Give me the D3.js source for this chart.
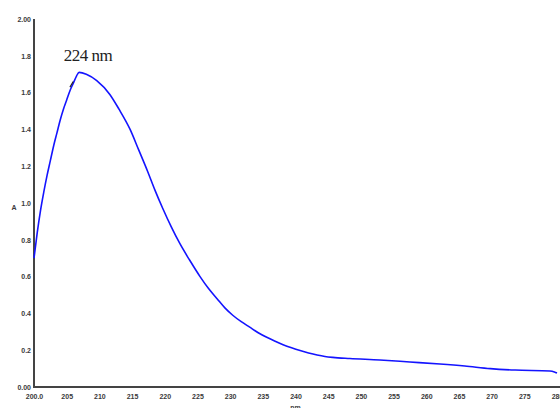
<!DOCTYPE html>
<html>
<head>
<meta charset="utf-8">
<script src="https://cdn.jsdelivr.net/npm/d3@7"></script>
<style>
  body { margin: 0; background: #fff; }
  svg { display: block; }
  .tick-label { font-family: "Liberation Sans", Arial, sans-serif; font-size: 7px; font-weight: bold; fill: #3a3a3a; }
</style>
</head>
<body>
<div id="chart"></div>
<script>
// UV absorbance spectrum
const wavelength = [200.0, 200.5, 201.0, 201.5, 202.0, 202.5, 203.0, 203.5, 204.0, 204.5, 205.0, 205.5, 206.0, 206.5,
  206.9, 208.0, 209.6, 211.6, 213.0, 214.7, 216.0, 217.4, 218.5, 219.7, 221.0, 222.3, 223.8, 225.4, 226.7,
  228.0, 229.2, 230.4, 231.7, 233.0, 234.3, 235.6, 236.8, 238.1, 239.4, 240.7, 242.0, 243.3, 244.5, 245.7,
  248.3, 252.9, 257.5, 262.1, 265.9, 269.8, 273.6, 278.9, 279.6, 280.0];
const absorbance = [0.70, 0.84, 0.96, 1.06, 1.15, 1.23, 1.31, 1.38, 1.45, 1.51, 1.56, 1.61, 1.65, 1.69,
  1.71, 1.70, 1.665, 1.59, 1.51, 1.40, 1.29, 1.17, 1.07, 0.97, 0.87, 0.78, 0.69, 0.60, 0.535,
  0.48, 0.43, 0.39, 0.355, 0.325, 0.295, 0.27, 0.25, 0.23, 0.213, 0.198, 0.185, 0.174, 0.166, 0.161,
  0.155, 0.147, 0.136, 0.125, 0.114, 0.100, 0.092, 0.087, 0.082, 0.076];

const xTicks = [200, 205, 210, 215, 220, 225, 230, 235, 240, 245, 250, 255, 260, 265, 270, 275, 280];
const xTickLabels = ["200.0", "205", "210", "215", "220", "225", "230", "235", "240", "245", "250", "255", "260", "265", "270", "275", "280"];
const yTicks = [0, 0.2, 0.4, 0.6, 0.8, 1.0, 1.2, 1.4, 1.6, 1.8, 2.0];
const yTickLabels = ["0.00", "0.2", "0.4", "0.6", "0.8", "1.0", "1.2", "1.4", "1.6", "1.8", "2.00"];

const peakLabel = "224 nm";
const peakAt = [206.9, 1.71];

const width = 560, height = 408;
const margin = { top: 19, right: 3, bottom: 21, left: 34 };

const svg = d3.select("#chart")
  .append("svg")
  .attr("width", width)
  .attr("height", height);

const x = d3.scaleLinear()
  .domain([200, 280])
  .range([margin.left, width - margin.right]);

const y = d3.scaleLinear()
  .domain([0, 2])
  .range([height - margin.bottom, margin.top]);

// axes without tick marks, labels only
const xAxis = d3.axisBottom(x)
  .tickValues(xTicks)
  .tickSize(0)
  .tickPadding(7)
  .tickFormat((d, i) => xTickLabels[i]);

const yAxis = d3.axisLeft(y)
  .tickValues(yTicks)
  .tickSize(0)
  .tickPadding(3)
  .tickFormat((d, i) => yTickLabels[i]);

const gx = svg.append("g")
  .attr("transform", `translate(0,${height - margin.bottom})`)
  .call(xAxis);
gx.select(".domain").remove();
gx.selectAll("text").attr("class", "tick-label").attr("font-size", null).attr("font-family", null);

const gy = svg.append("g")
  .attr("transform", `translate(${margin.left},0)`)
  .call(yAxis);
gy.select(".domain").remove();
gy.selectAll("text").attr("class", "tick-label").attr("font-size", null).attr("font-family", null);

// axis frame lines
svg.append("line")
  .attr("x1", margin.left).attr("x2", margin.left)
  .attr("y1", y(2)).attr("y2", y(0))
  .attr("stroke", "#444").attr("stroke-width", 2);
svg.append("line")
  .attr("x1", margin.left - 1).attr("x2", width)
  .attr("y1", y(0)).attr("y2", y(0))
  .attr("stroke", "#444").attr("stroke-width", 2);

// axis titles (tiny, as in the original)
svg.append("text")
  .attr("class", "tick-label")
  .attr("x", 14).attr("y", y(0.96))
  .attr("text-anchor", "middle")
  .text("A");
svg.append("text")
  .attr("class", "tick-label")
  .attr("x", x(240)).attr("y", height + 2)
  .attr("text-anchor", "middle")
  .text("nm");

// spectrum
const data = wavelength.map((w, i) => ({ w: w, a: absorbance[i] }));
const line = d3.line()
  .x(d => x(d.w))
  .y(d => y(d.a))
  .curve(d3.curveMonotoneX);

svg.append("path")
  .datum(data)
  .attr("fill", "none")
  .attr("stroke", "#1414ff")
  .attr("stroke-width", 1.6)
  .attr("d", line);

// little marker near the peak
svg.append("line")
  .attr("x1", x(205.5)).attr("y1", y(1.63))
  .attr("x2", x(206.0)).attr("y2", y(1.66))
  .attr("stroke", "#222").attr("stroke-width", 1.2);

// peak annotation
svg.append("text")
  .attr("x", x(peakAt[0]) + 9)
  .attr("y", y(peakAt[1]) - 11)
  .attr("text-anchor", "middle")
  .attr("font-family", "Liberation Serif, Times New Roman, serif")
  .attr("font-size", 17)
  .attr("fill", "#222")
  .attr("letter-spacing", -0.5)
  .text(peakLabel);
</script>
</body>
</html>
